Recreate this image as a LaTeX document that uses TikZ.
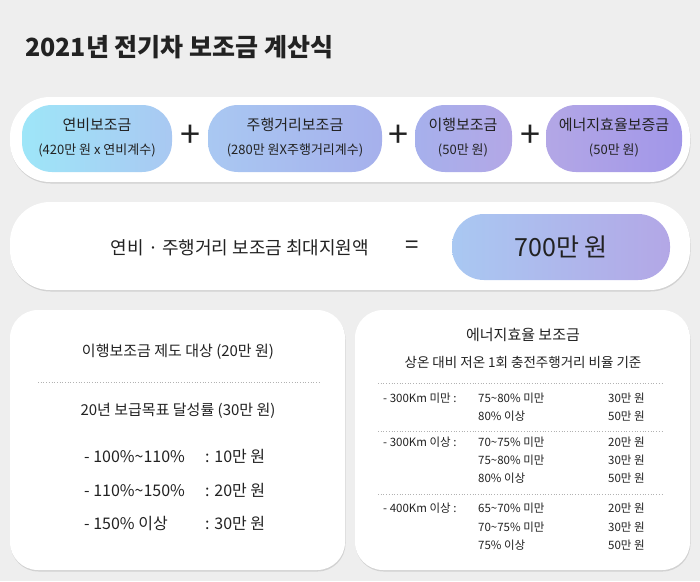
\documentclass[tikz,border=0pt]{standalone}
\usepackage{fontspec}
\setmainfont{Noto Sans CJK KR}
\usetikzlibrary{shadows}
\definecolor{bg}{HTML}{EEEEEE}
\definecolor{cA}{HTML}{9EE6F8}
\definecolor{cB}{HTML}{A9C8F2}
\definecolor{cC}{HTML}{A6B0EC}
\definecolor{cD}{HTML}{B3A7E6}
\definecolor{txt}{HTML}{222222}
\tikzset{
 panel/.style={fill=white,rounded corners=#1,drop shadow={shadow xshift=0.5pt,shadow yshift=-1.5pt,opacity=0.25}},
 pill/.style={rounded corners=30pt},
 t/.style={text=txt,inner sep=0pt},
 dots/.style={draw=gray!60,dotted,line width=0.7pt},
 plus/.style={t,font=\fontsize{36}{36}\selectfont}
}
\begin{document}
\begin{tikzpicture}[x=1pt,y=-1pt]
\fill[bg] (0,0) rectangle (700,581);
\useasboundingbox (0,0) rectangle (700,581);
\node[t,anchor=west,font=\fontsize{25}{25}\selectfont\bfseries] (title) at (25,47) {2021년 전기차 보조금 계산식};
% row 1
\fill[panel=40pt] (10,97) rectangle (690,182);
\shade[pill,left color=cA,right color=cB] (22,105) rectangle (172,172);
\shade[pill,left color=cB,right color=cC] (208,105) rectangle (382,172);
\shade[pill,left color=cC,right color=cD] (415,105) rectangle (512,172);
\shade[pill,left color=cD,right color=cD!90!blue] (546,105) rectangle (682,172);
\node[t,align=center,font=\fontsize{15}{24}\selectfont] (a) at (97,138) {연비보조금\\{\fontsize{13}{13}\selectfont(420만 원 x 연비계수)}};
\node[t,align=center,font=\fontsize{15}{24}\selectfont] (b) at (295,138) {주행거리보조금\\{\fontsize{13}{13}\selectfont(280만 원X주행거리계수)}};
\node[t,align=center,font=\fontsize{15}{24}\selectfont] (c) at (463,138) {이행보조금\\{\fontsize{13}{13}\selectfont(50만 원)}};
\node[t,align=center,font=\fontsize{15}{24}\selectfont] (d) at (614,138) {에너지효율보증금\\{\fontsize{13}{13}\selectfont(50만 원)}};
\node[plus] (p1) at (190,136) {+};
\node[plus] (p2) at (398,136) {+};
\node[plus] (p3) at (530,136) {+};
% row 2
\fill[panel=40pt] (10,202) rectangle (690,290);
\node[t,font=\fontsize{18}{18}\selectfont] (m) at (240,248) {연비 · 주행거리 보조금 최대지원액};
\node[t,font=\fontsize{24}{24}\selectfont] (eq) at (412,247) {=};
\shade[rounded corners=32pt,left color=cB,right color=cD] (452,214) rectangle (670,280);
\node[t,font=\fontsize{25}{25}\selectfont] (amt) at (561,247) {700만 원};
% bottom left
\fill[panel=28pt] (10,310) rectangle (345,570);
\node[t,font=\fontsize{15}{15}\selectfont] (l1) at (178,352) {이행보조금 제도 대상 (20만 원)};
\draw[dots] (38,382) -- (320,382);
\node[t,font=\fontsize{15}{15}\selectfont] (l2) at (178,411) {20년 보급목표 달성률 (30만 원)};
\foreach \y/\a/\b in {462/- 100\%\textasciitilde110\%/: 10만 원,496/- 110\%\textasciitilde150\%/: 20만 원,529/- 150\% 이상/: 30만 원}{
 \node[t,anchor=base west,font=\fontsize{16}{16}\selectfont] at (84,\y) {\a};
 \node[t,anchor=base west,font=\fontsize{16}{16}\selectfont] at (205,\y) {\b};
}
% bottom right
\fill[panel=28pt] (355,310) rectangle (690,570);
\node[t,font=\fontsize{15}{15}\selectfont] (r1) at (523,335) {에너지효율 보조금};
\node[t,font=\fontsize{13.5}{13.5}\selectfont] (r2) at (523,362) {상온 대비 저온 1회 충전주행거리 비율 기준};
\draw[dots] (378,383) -- (662,383);
\draw[dots] (378,431) -- (662,431);
\draw[dots] (378,494) -- (662,494);
\tikzset{s/.style={t,anchor=base west,font=\fontsize{11.5}{11.5}\selectfont}}
\node[s] at (383,402) {- 300Km 미만 :};
\node[s] at (383,446) {- 300Km 이상 :};
\node[s] at (383,512) {- 400Km 이상 :};
\foreach \y/\a/\b in {402/75\textasciitilde80\% 미만/30만 원,420/80\% 이상/50만 원,
 446/70\textasciitilde75\% 미만/20만 원,464/75\textasciitilde80\% 미만/30만 원,482/80\% 이상/50만 원,
 512/65\textasciitilde70\% 미만/20만 원,531/70\textasciitilde75\% 미만/30만 원,549/75\% 이상/50만 원}{
 \node[s] at (478,\y) {\a};
 \node[s] at (608,\y) {\b};
}
\end{tikzpicture}
\end{document}
